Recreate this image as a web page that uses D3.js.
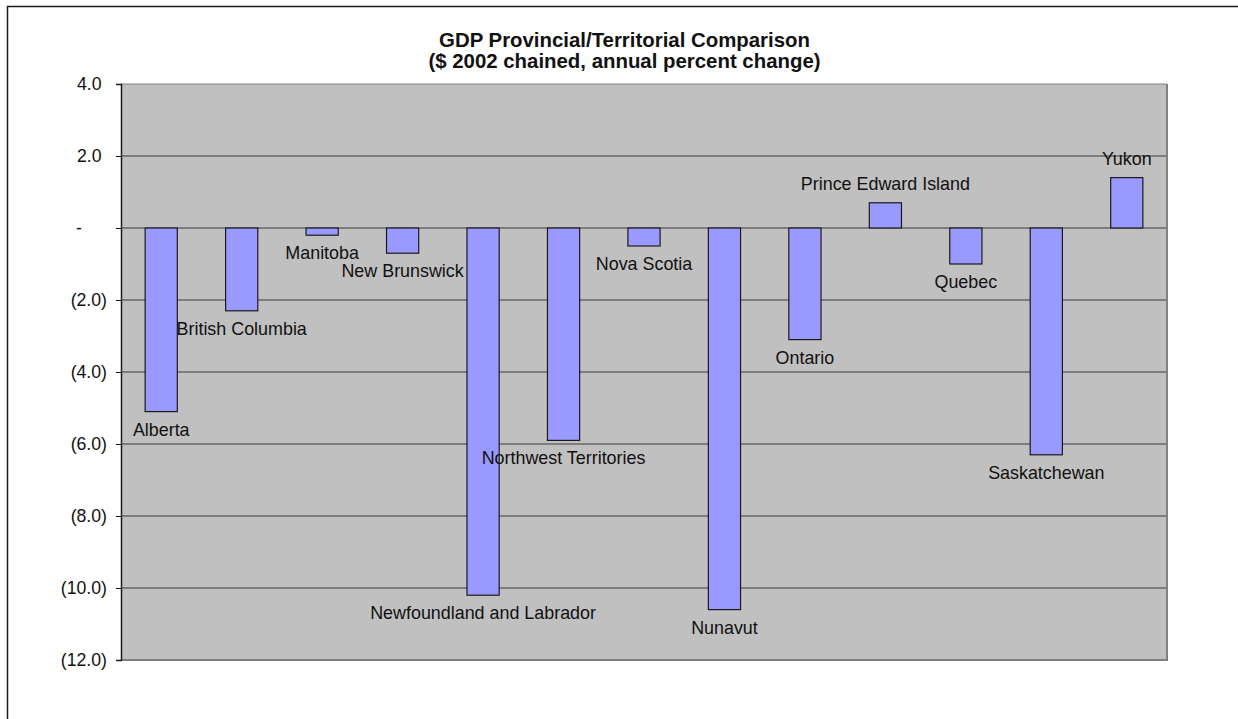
<!DOCTYPE html>
<html>
<head>
<meta charset="utf-8">
<script src="https://cdn.jsdelivr.net/npm/d3@7"></script>
<style>
  html, body { margin: 0; padding: 0; background: #fff; }
  svg { display: block; font-family: Arial, "Liberation Sans", sans-serif; }
</style>
</head>
<body>
<svg id="chart" width="1238" height="719"></svg>
<script>
// GDP by province/territory, $ 2002 chained, annual percent change
const provinces = [
  "Alberta", "British Columbia", "Manitoba", "New Brunswick",
  "Newfoundland and Labrador", "Northwest Territories", "Nova Scotia",
  "Nunavut", "Ontario", "Prince Edward Island", "Quebec",
  "Saskatchewan", "Yukon"
];
const gdpChange = [-5.1, -2.3, -0.2, -0.7, -10.2, -5.9, -0.5, -10.6, -3.1, 0.7, -1.0, -6.3, 1.4];
const yTicks = [4, 2, 0, -2, -4, -6, -8, -10, -12];
const titleLines = [
  "GDP Provincial/Territorial Comparison",
  "($ 2002 chained, annual percent change)"
];

const svg = d3.select("#chart");
const plot = { left: 121, right: 1167, top: 84, bottom: 660 };

// chart-area frame (runs off the right and bottom edges)
svg.append("rect")
  .attr("x", 7.5).attr("y", 6.5)
  .attr("width", 1300).attr("height", 800)
  .attr("fill", "#fff").attr("stroke", "#1a1a1a").attr("stroke-width", 1.5);

const x = d3.scaleBand().domain(provinces).range([plot.left, plot.right]).padding(0);
const y = d3.scaleLinear().domain([-12, 4]).range([plot.bottom, plot.top]);

// plot background
svg.append("rect")
  .attr("x", plot.left).attr("y", plot.top)
  .attr("width", plot.right - plot.left).attr("height", plot.bottom - plot.top)
  .attr("fill", "#c0c0c0");

// horizontal gridlines
svg.append("g").selectAll("line")
  .data(yTicks.filter(t => t !== -12))
  .join("line")
  .attr("x1", plot.left).attr("x2", plot.right)
  .attr("y1", d => y(d)).attr("y2", d => y(d))
  .attr("stroke", d => d === 4 ? "#808080" : "#3a3a3a")
  .attr("stroke-width", 1);

// plot border (right and bottom)
svg.append("path")
  .attr("d", `M${plot.right},${plot.top}V${plot.bottom}H${plot.left}`)
  .attr("fill", "none").attr("stroke", "#808080").attr("stroke-width", 2);

// bars
const barW = x.bandwidth() * 0.4;
svg.append("g").selectAll("rect")
  .data(provinces.map((p, i) => ({ p, v: gdpChange[i] })))
  .join("rect")
  .attr("x", d => x(d.p) + (x.bandwidth() - barW) / 2)
  .attr("y", d => y(Math.max(0, d.v)))
  .attr("width", barW)
  .attr("height", d => Math.abs(y(d.v) - y(0)))
  .attr("fill", "#9999ff")
  .attr("stroke", "#1a1a1a").attr("stroke-width", 1.2);

// y axis
const fmt = v => v === 0 ? "-" : v < 0 ? `(${d3.format(".1f")(-v)})` : d3.format(".1f")(v);
const yAxis = d3.axisLeft(y).tickValues(yTicks).tickSize(5).tickPadding(0).tickFormat(fmt);
const gy = svg.append("g").attr("transform", `translate(${plot.left},0)`).call(yAxis);
gy.select(".domain").attr("stroke", "#1a1a1a").attr("stroke-width", 1.5);
gy.selectAll(".tick line").attr("stroke", "#1a1a1a");
gy.selectAll(".tick text")
  .attr("font-size", 17.7)
  .attr("font-family", "Arial, 'Liberation Sans', sans-serif")
  .attr("fill", "#111")
  .attr("x", d => d === 0 ? -39 : d > 0 ? -19.5 : -14);

// category data labels at bar ends
svg.append("g").selectAll("text")
  .data(provinces.map((p, i) => ({ p, v: gdpChange[i] })))
  .join("text")
  .attr("x", d => x(d.p) + x.bandwidth() / 2)
  .attr("y", d => d.v < 0 ? y(d.v) + 24 : y(d.v) - 13)
  .attr("text-anchor", "middle")
  .attr("font-size", 17.9)
  .attr("fill", "#111")
  .text(d => d.p);

// title
svg.append("g").selectAll("text")
  .data(titleLines)
  .join("text")
  .attr("x", 624.5)
  .attr("y", (d, i) => 47 + i * 21)
  .attr("text-anchor", "middle")
  .attr("font-size", 20.4)
  .attr("font-weight", "bold")
  .attr("fill", "#111")
  .text(d => d);
</script>
</body>
</html>
